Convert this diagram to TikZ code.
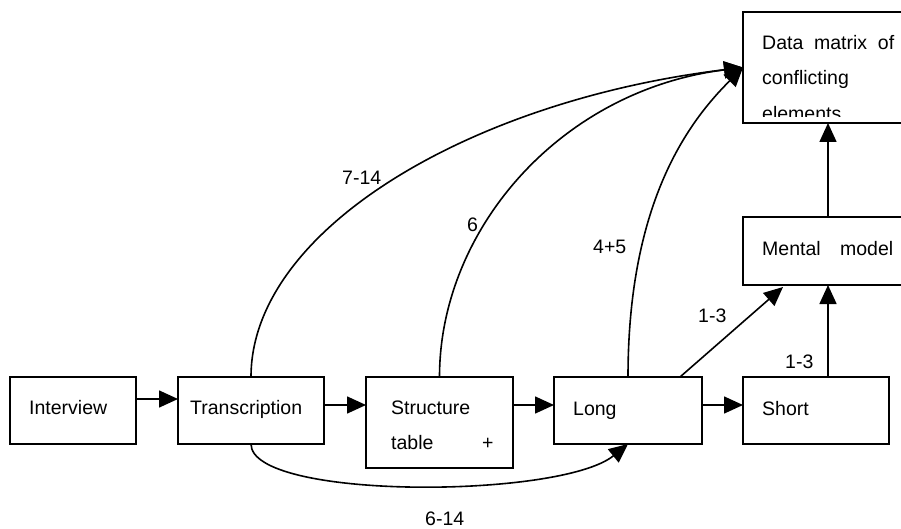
\documentclass[tikz,border=0pt]{standalone}
\usepackage{fontspec}
\setmainfont{Liberation Sans}
\usetikzlibrary{arrows.meta}
\newcommand{\fs}{\fontsize{19.5}{23}\selectfont}
\tikzset{
  box/.style={draw, line width=1.6pt, inner sep=0pt, outer sep=0pt},
  txt/.style={anchor=base west, inner sep=0pt, font=\fs},
  arr/.style={-{Triangle[length=19pt,width=17pt]}, line width=1.6pt},
  ln/.style={line width=1.6pt}
}
\begin{document}
\begin{tikzpicture}[x=1pt,y=-1pt]
\useasboundingbox (0,0) rectangle (901,529);
% boxes
\node[box, minimum width=126pt, minimum height=67pt] (iv) at (73,410.5) {};
\node[box, minimum width=146pt, minimum height=67pt] (tr) at (251,410.5) {};
\node[box, minimum width=147pt, minimum height=91pt] (st) at (439.5,422.5) {};
\node[box, minimum width=148pt, minimum height=67pt] (lo) at (628,410.5) {};
\node[box, minimum width=146pt, minimum height=67pt] (sh) at (816,410.5) {};
\node[box, minimum width=177pt, minimum height=68pt] (mm) at (831.5,251) {};
\node[box, minimum width=177pt, minimum height=111pt] (dm) at (831.5,67.5) {};
% texts
\node[txt] (tiv) at (29,414) {Interview};
\node[txt] (ttr) at (190,414) {Transcription};
\node[txt] (tst1) at (391,414) {Structure};
\node[txt] (tst2) at (391,449) {table};
\node[txt] (tst3) at (482,449) {+};
\node[txt] (tlo) at (573,415) {Long};
\node[txt] (tsh) at (762,415) {Short};
\node[txt] (tmm) at (762,255) {\makebox[131pt][s]{Mental model}};
\node[txt] (tdm1) at (762,50) {\makebox[132pt][s]{Data matrix of}};
\node[txt] (tdm2) at (762,85) {conflicting};
\begin{scope}
  \clip (743,12) rectangle (901,117);
  \node[txt] (tdm3) at (762,121) {elements};
\end{scope}
% straight connectors
\draw[arr] ([yshift=11.5pt]iv.east) -- ([yshift=11.5pt]iv.east -| tr.west);
\draw[arr] ([yshift=5.5pt]tr.east) -- ([yshift=5.5pt]tr.east -| st.west);
\draw[arr] ([yshift=17.5pt]st.east) -- ([yshift=17.5pt]st.east -| lo.west);
\draw[arr] ([yshift=5.5pt]lo.east) -- ([yshift=5.5pt]lo.east -| sh.west);
\draw[arr] ([xshift=12pt]sh.north) -- ([xshift=12pt]sh.north |- mm.south);
\draw[arr] ([xshift=-3.5pt]mm.north) -- ([xshift=-3.5pt]mm.north |- dm.south);
\draw[arr] ([xshift=52pt]lo.north) -- ([xshift=40pt,yshift=-2pt]mm.south west);
% curves
\draw[arr] (tr.north) .. controls +(0,-147) and +(-273,33) .. (dm.west);
\draw[arr] (st.north) .. controls +(0,-147) and +(-183,23) .. (dm.west);
\draw[arr] (lo.north) .. controls +(0,-177) and +(-53,53) .. (dm.west);
\draw[arr] (tr.south) .. controls +(0,56) and +(-68,55) .. (lo.south);
% labels
\node[txt] (l1) at (342,185) {7-14};
\node[txt] (l2) at (467,231) {6};
\node[txt] (l3) at (593,253) {4+5};
\node[txt] (l4) at (698,322) {1-3};
\node[txt] (l5) at (785,368) {1-3};
\node[txt] (l6) at (425,525) {6-14};
\end{tikzpicture}
\end{document}
